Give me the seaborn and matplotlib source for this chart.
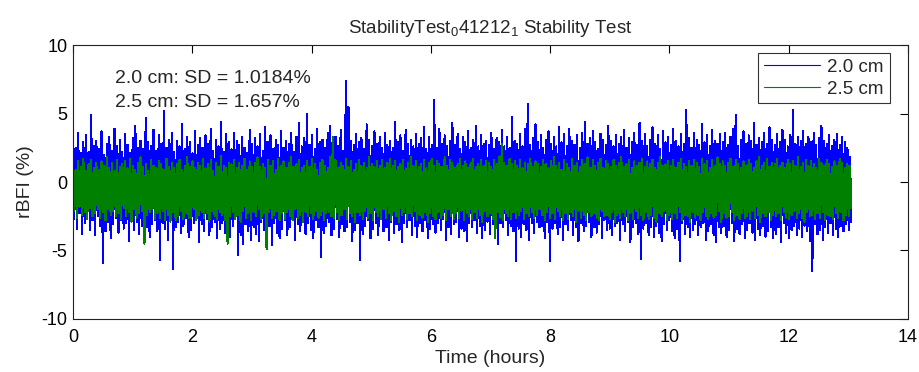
import numpy as np
import pandas as pd
import matplotlib
matplotlib.use("Agg")
import matplotlib.pyplot as plt
from matplotlib.lines import Line2D
import seaborn as sns

# ---------------- data (read/estimated from the picture) ----------------
duration_hours = 13.05
series_names = ["2.0 cm", "2.5 cm"]

rbfi_20cm = [
    3.2,-2.7,2.5,-3.4,3.6,-2.3,2.1,-3.8,2.9,-3.0,3.4,-2.6,2.2,-3.5,4.9,-2.8,2.6,-3.9,3.0,-2.5,
    2.4,-3.2,3.7,-5.9,2.0,-3.6,2.8,-2.9,3.3,-4.1,2.3,-3.1,3.9,-2.6,2.6,-3.7,3.1,-2.8,2.2,-3.4,
    3.5,-3.0,2.7,-4.3,2.1,-2.7,3.2,-3.5,4.1,-2.9,2.5,-3.8,3.0,-3.2,2.4,-2.6,4.7,-3.3,2.9,-4.0,
    2.6,-3.1,3.8,-2.8,2.3,-3.6,3.4,-5.7,2.8,-3.0,5.2,-3.4,2.5,-4.2,3.1,-2.7,3.6,-6.35,2.2,-3.3,
    3.0,-2.9,2.6,-3.7,4.2,-3.2,2.4,-2.6,3.3,-4.0,2.9,-3.5,2.1,-3.0,3.7,-2.8,2.7,-4.4,3.2,-3.1,
    2.5,-3.6,3.4,-2.7,2.8,-3.9,3.9,-3.3,2.3,-2.9,3.1,-4.1,2.6,-3.4,4.4,-3.0,2.2,-3.7,3.5,-2.8,
    2.9,-4.0,2.4,-3.2,3.6,-2.7,3.0,-5.3,2.7,-3.9,3.3,-4.5,2.5,-3.1,2.1,-3.6,3.8,-4.2,2.8,-3.3,
    3.2,-3.8,2.6,-4.3,3.5,-2.9,2.3,-3.5,4.0,-4.0,2.9,-3.2,3.4,-4.6,2.4,-3.0,3.1,-3.7,2.7,-4.1,
    3.7,-3.4,2.5,-2.8,3.0,-3.9,2.8,-3.3,3.6,-2.6,2.2,-4.2,3.3,-3.1,4.3,-3.6,2.6,-2.9,3.2,-3.8,
    5.0,-3.0,2.7,-3.5,3.4,-4.1,2.4,-2.8,3.9,-3.3,2.9,-5.5,3.1,-3.7,2.5,-3.2,3.6,-2.9,4.1,-3.9,
    2.8,-3.4,3.3,-2.7,2.6,-4.0,3.8,-3.1,2.3,-3.6,7.4,-3.3,5.5,-2.9,3.0,-4.3,2.7,-3.5,3.5,-3.0,
    2.9,-5.7,3.2,-3.8,2.4,-3.2,4.2,-2.8,3.1,-4.1,2.6,-3.4,3.7,-3.0,2.8,-3.9,3.3,-2.7,2.5,-3.6,
    3.6,-3.3,2.7,-4.2,3.0,-2.9,2.5,-3.7,4.4,-3.1,2.9,-3.5,3.4,-4.4,2.3,-3.0,3.8,-3.3,2.8,-2.8,
    3.1,-3.9,2.6,-3.2,3.5,-4.0,2.8,-3.0,3.2,-3.6,4.0,-2.8,2.4,-4.1,3.3,-3.4,2.7,-3.1,6.0,-3.7,
    2.5,-3.0,3.9,-3.5,2.8,-2.7,3.4,-4.2,2.6,-3.3,3.0,-3.8,4.3,-3.1,2.7,-2.9,3.5,-4.0,2.4,-3.4,
    3.3,-3.6,2.9,-4.3,3.7,-3.0,2.5,-3.3,3.1,-2.8,4.1,-3.7,2.6,-3.2,3.4,-4.1,2.8,-3.5,3.0,-2.9,
    2.7,-3.8,3.6,-3.1,2.4,-3.4,3.2,-4.5,2.9,-3.0,3.8,-3.3,2.6,-2.8,3.3,-3.9,2.5,-3.2,4.75,-3.6,
    3.0,-5.8,2.8,-3.4,3.5,-4.0,2.6,-3.1,3.9,-3.5,5.7,-4.2,2.7,-3.0,3.2,-3.7,4.2,-2.9,2.9,-3.3,
    3.4,-3.2,2.5,-4.1,3.1,-2.9,3.7,-5.8,2.8,-3.4,3.3,-3.0,2.6,-3.8,4.0,-3.3,2.9,-4.2,3.5,-3.1,
    2.6,-3.5,3.9,-2.8,3.0,-3.9,2.7,-3.3,3.4,-4.3,2.5,-3.0,3.6,-3.6,4.4,-3.2,2.8,-2.9,3.2,-4.0,
    3.7,-3.3,2.9,-3.7,2.4,-3.1,3.5,-4.1,3.1,-2.8,2.7,-3.5,4.1,-3.4,3.0,-3.9,2.6,-3.2,3.4,-3.0,
    2.8,-4.2,3.3,-3.1,3.8,-3.6,2.5,-2.9,3.2,-4.4,2.9,-3.3,3.6,-3.0,2.7,-3.8,4.3,-5.6,3.0,-3.4,
    3.5,-3.0,2.6,-3.9,3.1,-3.3,4.0,-4.0,2.8,-3.2,3.4,-3.7,2.4,-4.3,3.7,-3.1,2.9,-3.5,3.3,-2.8,
    2.7,-3.6,3.9,-4.1,3.0,-3.4,2.6,-5.75,3.5,-3.0,2.8,-3.8,5.25,-3.3,3.2,-4.0,2.5,-3.5,3.6,-3.1,
    3.1,-3.9,2.7,-3.3,4.2,-3.0,2.9,-4.2,3.4,-3.6,2.6,-3.1,3.8,-3.9,3.0,-4.4,2.8,-3.3,3.5,-3.7,
    2.9,-3.2,3.6,-4.0,2.7,-3.5,3.3,-3.0,3.9,-4.3,4.9,-3.4,2.6,-3.8,3.1,-3.1,3.7,-4.1,2.8,-3.5,
    3.4,-3.0,3.0,-3.7,4.3,-4.2,2.7,-3.4,3.2,-3.9,2.9,-3.2,3.6,-4.0,2.8,-3.6,4.0,-3.3,3.1,-4.1,
    2.7,-3.8,3.5,-3.3,2.9,-4.4,3.8,-3.0,3.1,-3.7,2.6,-4.1,3.4,-3.5,5.25,-3.2,2.8,-3.9,3.3,-3.4,
    3.0,-4.0,3.7,-3.2,2.8,-3.6,3.3,-4.3,2.9,-6.5,3.6,-3.1,2.7,-3.8,3.2,-3.5,4.1,-4.2,3.0,-3.3,
    2.8,-3.7,3.4,-3.0,2.6,-3.9,3.1,-3.4,3.5,-4.0,2.7,-3.2,3.3,-3.6,2.9,-3.1,2.5,-3.5,1.8,-2.9,
]

rbfi_25cm = [
    1.2,-2.1,0.9,-2.6,1.5,-1.8,1.1,-2.4,1.7,-2.2,0.8,-2.7,1.3,-1.9,1.6,-2.5,1.0,-2.3,1.4,-2.0,
    0.9,-2.6,1.5,-2.2,1.2,-2.8,1.8,-2.0,1.0,-2.4,1.4,-2.1,0.8,-2.5,1.6,-2.3,1.1,-2.7,1.3,-1.9,
    1.5,-2.5,1.0,-2.2,1.7,-2.9,1.2,-2.0,0.9,-2.6,1.4,-2.3,1.8,-2.1,1.1,-4.5,1.3,-2.4,0.8,-2.2,
    1.6,-2.0,1.2,-2.7,1.0,-2.3,1.5,-2.6,1.3,-2.1,0.9,-2.8,1.7,-2.4,1.1,-2.9,1.4,-2.2,1.0,-2.8,
    1.3,-2.5,1.6,-2.1,0.9,-2.7,1.2,-2.3,1.8,-2.6,1.1,-2.6,1.5,-2.0,1.0,-2.8,1.4,-2.4,1.2,-2.2,
    1.7,-2.6,1.0,-2.3,1.3,-2.9,1.6,-2.1,0.8,-2.5,1.4,-2.7,1.1,-2.2,1.9,-2.4,1.2,-2.8,1.0,-4.5,
    1.4,-2.5,1.3,-2.2,1.6,-2.7,1.0,-2.4,1.4,-2.9,1.2,-2.1,1.7,-2.6,0.9,-2.3,1.5,-2.8,1.1,-2.2,
    1.4,-2.5,1.8,-2.0,1.1,-2.7,1.3,-2.3,1.0,-4.9,1.6,-2.2,1.2,-2.6,1.5,-2.4,0.9,-2.1,1.7,-2.8,
    1.2,-2.3,1.5,-2.7,1.0,-2.2,1.4,-2.5,1.8,-2.8,1.1,-2.0,1.3,-2.6,1.6,-2.4,1.0,-2.9,1.2,-2.2,
    1.5,-2.5,1.1,-2.3,1.7,-2.7,1.3,-2.1,0.9,-2.6,1.4,-2.4,1.6,-2.8,1.2,-2.3,1.0,-2.2,1.8,-2.5,
    3.3,-2.6,1.6,-2.2,1.0,-2.8,1.4,-2.4,1.2,-2.0,1.7,-2.7,1.1,-2.3,1.5,-2.5,0.9,-2.9,1.3,-2.2,
    1.6,-2.4,1.2,-2.7,1.4,-2.1,1.0,-2.6,1.8,-2.3,1.3,-2.8,1.1,-2.2,1.5,-2.5,1.2,-2.7,1.6,-2.0,
    1.0,-2.6,1.4,-2.3,1.7,-2.8,1.2,-2.1,1.5,-2.5,1.1,-2.9,1.3,-2.4,1.6,-2.2,1.0,-2.7,1.4,-2.3,
    1.8,-2.5,1.2,-2.1,1.5,-2.8,1.1,-2.4,1.3,-2.6,1.6,-2.2,1.0,-2.9,1.4,-2.3,1.7,-2.5,1.2,-2.7,
    1.5,-2.2,1.3,-2.6,1.1,-2.4,1.8,-2.8,1.2,-2.0,1.6,-2.5,1.4,-2.7,1.0,-2.3,1.3,-2.6,1.7,-2.1,
    1.2,-2.8,1.5,-2.3,1.0,-2.5,1.4,-2.7,1.7,-2.2,1.1,-2.6,1.3,-2.4,1.6,-2.9,1.2,-2.1,1.5,-2.5,
    1.4,-2.3,1.1,-2.7,1.6,-4.1,1.3,-2.2,1.8,-2.6,2.8,-2.8,1.4,-2.3,1.2,-2.5,1.7,-2.7,1.3,-2.2,
    1.5,-2.6,1.2,-2.4,1.6,-2.1,1.0,-2.7,1.4,-2.3,1.3,-2.5,1.7,-2.2,1.1,-2.6,1.5,-2.4,1.3,-2.0,
    1.1,-2.4,1.6,-2.8,1.3,-2.2,1.0,-2.6,1.5,-2.3,1.8,-2.7,1.2,-2.1,1.4,-2.5,0.9,-2.8,1.6,-2.3,
    1.3,-2.7,1.0,-2.2,1.7,-2.5,1.2,-2.9,1.4,-2.1,1.1,-2.6,1.6,-2.4,1.3,-2.8,1.8,-2.2,1.0,-2.5,
    1.6,-2.3,1.2,-2.6,1.4,-2.8,1.7,-2.1,1.0,-2.5,1.5,-2.4,1.3,-2.7,1.1,-2.2,1.6,-2.9,1.2,-2.4,
    1.4,-2.6,1.8,-2.2,1.1,-2.5,1.3,-2.8,1.6,-2.3,1.0,-2.7,1.5,-2.1,1.2,-2.6,1.4,-2.4,1.7,-2.8,
    1.1,-2.2,1.5,-2.7,1.3,-2.4,1.6,-2.6,1.0,-2.9,1.4,-2.3,1.8,-2.5,1.2,-2.1,1.3,-2.8,1.5,-2.4,
    1.2,-2.7,1.6,-2.3,1.0,-2.6,1.4,-2.2,1.7,-2.8,1.3,-2.4,1.1,-2.5,1.5,-2.9,1.2,-2.2,1.6,-2.6,
    1.4,-2.4,1.1,-2.8,1.7,-2.2,1.3,-2.5,1.5,-2.7,1.0,-2.3,1.6,-2.6,1.2,-2.4,1.8,-2.1,1.3,-2.9,
    1.5,-2.3,1.2,-2.6,1.4,-2.5,1.7,-2.2,1.1,-2.8,1.6,-2.4,1.3,-2.7,1.0,-2.3,1.5,-2.6,1.2,-2.5,
    1.6,-2.7,1.3,-2.1,1.0,-2.6,1.5,-2.4,1.8,-2.9,1.2,-2.3,1.4,-2.5,1.7,-2.2,1.1,-2.8,1.4,-2.4,
    1.3,-2.5,1.7,-2.3,1.2,-2.8,1.4,-2.2,1.0,-2.6,1.6,-2.7,1.3,-2.4,1.5,-2.1,1.2,-2.6,1.8,-2.3,
    1.1,-2.6,1.4,-2.9,1.6,-2.2,1.2,-2.5,1.5,-2.4,1.3,-2.7,1.0,-2.3,1.7,-2.6,1.4,-2.2,1.2,-2.8,
    1.6,-2.4,1.3,-2.5,1.1,-2.7,1.5,-2.3,1.2,-2.6,1.7,-2.2,1.4,-2.8,1.0,-2.4,1.3,-2.5,1.2,-1.9,
]

sd_labels = ["2.0 cm: SD = 1.0184%", "2.5 cm: SD = 1.657%"]
x_ticks = [0, 2, 4, 6, 8, 10, 12, 14]
y_ticks = [-10, -5, 0, 5, 10]

# ---------------- build table ----------------
t20 = np.linspace(0, duration_hours, len(rbfi_20cm))
t25 = np.linspace(0, duration_hours, len(rbfi_25cm))
df = pd.concat([
    pd.DataFrame({"time": t20, "rbfi": rbfi_20cm, "series": series_names[0]}),
    pd.DataFrame({"time": t25, "rbfi": rbfi_25cm, "series": series_names[1]}),
], ignore_index=True)

# ---------------- plot ----------------
sns.set_style("white")
plt.rcParams["font.family"] = ["Liberation Sans", "DejaVu Sans"]
plt.rcParams["mathtext.fontset"] = "custom"
plt.rcParams["mathtext.rm"] = "Liberation Sans"
plt.rcParams["mathtext.it"] = "Liberation Sans"
plt.rcParams["axes.unicode_minus"] = False
plt.rcParams["path.simplify"] = False

fig = plt.figure(figsize=(9.19, 3.72), dpi=100)
ax = fig.add_axes([0.0794, 0.1425, 0.9086, 0.7365])

palette = {series_names[0]: "#0000FF", series_names[1]: "#008000"}
sns.lineplot(data=df, x="time", y="rbfi", hue="series", hue_order=series_names,
             palette=palette, estimator=None, sort=False, linewidth=0.8,
             antialiased=False, ax=ax, legend=False)

ax.set_xlim(0, 14)
ax.set_ylim(-10, 10)
ax.set_xticks(x_ticks)
ax.set_yticks(y_ticks)
ax.tick_params(direction="in", length=6, width=0.8, top=True, right=True,
               labelsize=13, colors="black")
ax.tick_params(axis="x", pad=7)
ax.tick_params(axis="y", pad=4)
for s in ax.spines.values():
    s.set_color("#222222")
    s.set_linewidth(0.8)

ax.set_xlabel("Time (hours)", fontsize=14, labelpad=3)
ax.set_ylabel("rBFI (%)", fontsize=14, labelpad=5)
ax.set_title("StabilityTest$_0$41212$_1$ Stability Test", fontsize=13.5, pad=9)

ax.text(0.7, 7.2, sd_labels[0], fontsize=14, va="baseline", ha="left")
ax.text(0.7, 5.45, sd_labels[1], fontsize=14, va="baseline", ha="left")

handles = [Line2D([], [], color=palette[n], linewidth=0.8) for n in series_names]
leg = ax.legend(handles, series_names, loc="upper right", bbox_to_anchor=(0.978, 0.971),
                fontsize=13.5, frameon=True, fancybox=False, edgecolor="black",
                handlelength=3.0, borderpad=0.3, labelspacing=0.25, handletextpad=0.4,
                borderaxespad=0.0)
leg.get_frame().set_linewidth(0.8)

fig.savefig("out.png", dpi=100)
